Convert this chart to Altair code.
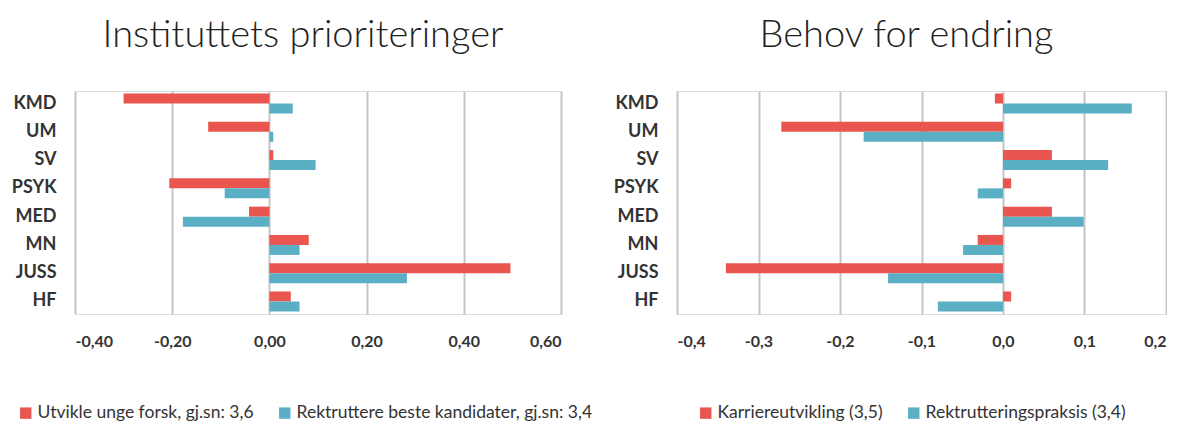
import altair as alt
import pandas as pd

categories = ["KMD", "UM", "SV", "PSYK", "MED", "MN", "JUSS", "HF"]

left_series = ["Utvikle unge forsk, gj.sn: 3,6", "Rektruttere beste kandidater, gj.sn: 3,4"]
left_red = [-0.300, -0.126, 0.008, -0.206, -0.042, 0.081, 0.496, 0.044]
left_blue = [0.048, 0.008, 0.095, -0.092, -0.178, 0.062, 0.283, 0.062]
left_ticks = [-0.4, -0.2, 0.0, 0.2, 0.4, 0.6]

right_series = ["Karriereutvikling (3,5)", "Rektrutteringspraksis (3,4)"]
right_red = [-0.010, -0.272, 0.060, 0.010, 0.060, -0.031, -0.340, 0.010]
right_blue = [0.158, -0.171, 0.129, -0.031, 0.099, -0.049, -0.141, -0.080]
right_ticks = [-0.4, -0.3, -0.2, -0.1, 0.0, 0.1, 0.2]

RED = "#E8564F"
BLUE = "#5AAFC4"
FONT = "Lato"
BAR_H = 10


def make_df(red, blue, s):
    rows = []
    for c, r, b in zip(categories, red, blue):
        rows.append({"cat": c, "series": s[0], "value": r})
        rows.append({"cat": c, "series": s[1], "value": b})
    return pd.DataFrame(rows)


def panel(df, title, s, ticks, decimals, legend_x, width):
    label_expr = "replace(replace(format(datum.value, '.%df'), '.', ','), '\u2212', '-')" % decimals
    base = alt.Chart(df).encode(
        x=alt.X("value:Q",
                scale=alt.Scale(domain=[ticks[0], ticks[-1]], nice=False, zero=False),
                axis=alt.Axis(values=ticks, labelExpr=label_expr, title=None, grid=True,
                              gridColor="#C4C4C4", gridWidth=2, domain=False, ticks=False,
                              labelFont=FONT, labelFontWeight="bold", labelFontSize=16,
                              labelColor="#333333", labelPadding=19)),
        x2=alt.datum(0),
        y=alt.Y("cat:N", sort=categories,
                scale=alt.Scale(paddingInner=0.3, paddingOuter=0.092),
                axis=alt.Axis(title=None, domain=False, ticks=False, labelFont=FONT,
                              labelFontWeight="bold", labelFontSize=18, labelColor="#333333",
                              labelPadding=19)),
        color=alt.Color("series:N", sort=s,
                        scale=alt.Scale(domain=s, range=[RED, BLUE]),
                        legend=alt.Legend(title=None, orient="none", direction="horizontal",
                                          legendX=legend_x, legendY=313,
                                          symbolType="square", symbolSize=130,
                                          symbolStrokeWidth=0, labelFont=FONT,
                                          labelFontSize=17.5, labelColor="#333333",
                                          labelLimit=0, columnPadding=22, labelOffset=3)),
    )
    red = base.mark_bar(height=BAR_H, yOffset=-BAR_H / 2).transform_filter(
        alt.datum.series == s[0])
    blue = base.mark_bar(height=BAR_H, yOffset=BAR_H / 2).transform_filter(
        alt.datum.series == s[1])
    return alt.layer(red, blue).properties(
        width=width, height=223,
        title=alt.TitleParams(title, fontSize=38, font=FONT, fontWeight=300,
                              color="#222222", anchor="middle", offset=36, dx=-15),
    )


left = panel(make_df(left_red, left_blue, left_series), "Instituttets prioriteringer",
             left_series, left_ticks, 2, -58, 486)
right = panel(make_df(right_red, right_blue, right_series), "Behov for endring",
              right_series, right_ticks, 1, 20, 489)

chart = alt.hconcat(left, right, spacing=18).resolve_scale(color="independent").resolve_legend(
    color="independent").configure_view(stroke=None).configure(
    background="white", padding={"left": 2, "right": 0, "top": 8, "bottom": 5})

chart.save("out.html", embed_options={"renderer": "svg", "actions": False})
